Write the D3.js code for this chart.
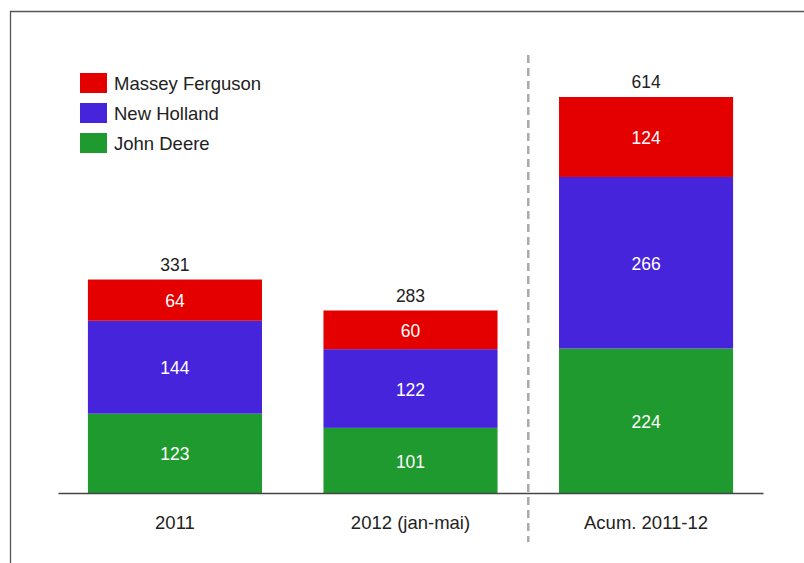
<!DOCTYPE html>
<html><head><meta charset="utf-8">
<script src="https://cdn.jsdelivr.net/npm/d3@7"></script>
<style>body{margin:0;background:#fff}svg{display:block;font-family:"Liberation Sans",Arial,sans-serif}</style>
</head><body>
<script>
const categories = ["2011", "2012 (jan-mai)", "Acum. 2011-12"];
const seriesNames = ["John Deere", "New Holland", "Massey Ferguson"];
const johnDeere = [123, 101, 224];
const newHolland = [144, 122, 266];
const masseyFerguson = [64, 60, 124];
const totals = [331, 283, 614];
const colors = {"Massey Ferguson": "#e50000", "New Holland": "#4524db", "John Deere": "#1f9a2f"};

const W = 804, H = 563;
const svg = d3.select("body").append("svg").attr("width", W).attr("height", H);

// frame
svg.append("line").attr("x1", 10).attr("x2", W).attr("y1", 11.5).attr("y2", 11.5).attr("stroke", "#555").attr("stroke-width", 1.3);
svg.append("line").attr("x1", 10.5).attr("x2", 10.5).attr("y1", 11).attr("y2", H).attr("stroke", "#555").attr("stroke-width", 1.3);

const x = d3.scaleBand().domain(categories).range([58, 763]).paddingInner(0.261).paddingOuter(0.127);
const y = d3.scaleLinear().domain([0, 614]).range([493, 97]);

const data = categories.map((c, i) => ({cat: c, "John Deere": johnDeere[i], "New Holland": newHolland[i], "Massey Ferguson": masseyFerguson[i], total: totals[i]}));
const stacked = d3.stack().keys(seriesNames)(data);

const g = svg.append("g");
stacked.forEach(layer => {
  g.selectAll(null).data(layer).enter().append("rect")
    .attr("x", d => x(d.data.cat)).attr("width", x.bandwidth())
    .attr("y", d => y(d[1])).attr("height", d => y(d[0]) - y(d[1]))
    .attr("fill", colors[layer.key]);
  g.selectAll(null).data(layer).enter().append("text")
    .attr("x", d => x(d.data.cat) + x.bandwidth() / 2)
    .attr("y", d => (y(d[0]) + y(d[1])) / 2 + 1)
    .attr("dy", "0.35em").attr("text-anchor", "middle")
    .attr("fill", "#fff").attr("font-size", 17.5)
    .text(d => d[1] - d[0]);
});

// totals
g.selectAll(null).data(data).enter().append("text")
  .attr("x", d => x(d.cat) + x.bandwidth() / 2)
  .attr("y", d => y(d.total) - 15)
  .attr("dy", "0.35em").attr("text-anchor", "middle")
  .attr("fill", "#222").attr("font-size", 17.5)
  .text(d => d.total);

// baseline axis
const axis = d3.axisBottom(x).tickSize(0).tickPadding(23);
const ax = svg.append("g").attr("transform", `translate(0,${y(0)})`).call(axis);
ax.select(".domain").attr("stroke", "#444").attr("stroke-width", 1.3);
ax.selectAll("text").attr("font-size", 18.5).attr("fill", "#222").attr("font-family", "Liberation Sans, Arial, sans-serif");

// dashed separator
const sepX = (x(categories[1]) + x.bandwidth() + x(categories[2])) / 2;
svg.append("line").attr("x1", sepX).attr("x2", sepX).attr("y1", 55).attr("y2", 542)
  .attr("stroke", "#aaa").attr("stroke-width", 2.5).attr("stroke-dasharray", "8,5");

// legend
const legendOrder = ["Massey Ferguson", "New Holland", "John Deere"];
const lg = svg.append("g").attr("transform", "translate(80,73)");
legendOrder.forEach((k, i) => {
  lg.append("rect").attr("x", 0).attr("y", i * 30).attr("width", 27).attr("height", 20).attr("fill", colors[k]);
  lg.append("text").attr("x", 34).attr("y", i * 30 + 11).attr("dy", "0.35em")
    .attr("font-size", 18.5).attr("fill", "#222").text(k);
});
</script>
</body></html>
